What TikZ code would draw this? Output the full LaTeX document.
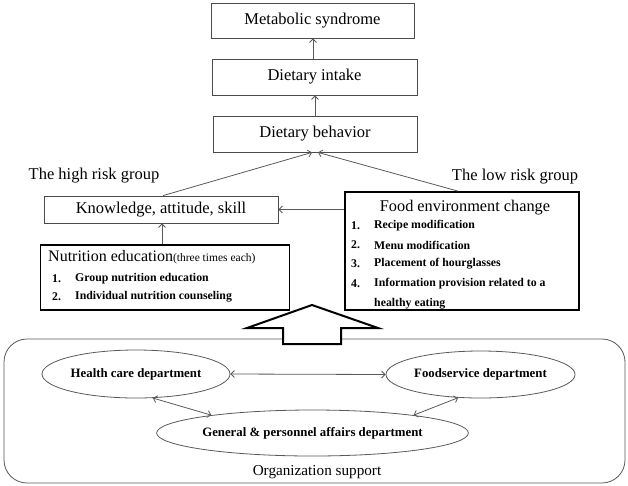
\documentclass[tikz,border=0pt]{standalone}
\usepackage{fontspec}
\setmainfont{Liberation Serif}
\usetikzlibrary{arrows.meta,shapes.geometric}
\newcommand\fsz[1]{\fontsize{#1}{#1}\selectfont}
\tikzset{
  thinbox/.style={draw=black!70, line width=0.8pt, inner sep=0pt, minimum width=204pt, minimum height=36pt, font=\fsz{16.5}},
  thickbox/.style={draw=black, line width=1.8pt, inner sep=0pt},
  arr/.style={draw=black!65, line width=0.8pt, -{Straight Barb[length=3.5pt,width=7pt]}},
  darr/.style={draw=black!65, line width=0.8pt, {Straight Barb[length=3.5pt,width=7pt]}-{Straight Barb[length=3.5pt,width=7pt]}},
  dept/.style={ellipse, draw=black!65, line width=0.8pt, inner sep=0pt, font=\fsz{12.8}\bfseries},
  itemtxt/.style={anchor=west, inner sep=0pt, font=\fsz{11.8}\bfseries},
  plain/.style={inner sep=0pt},
}
\begin{document}
\begin{tikzpicture}[x=1pt,y=-1pt]
\useasboundingbox (0,0) rectangle (628,485);
% top chain
\node[thinbox, minimum width=203pt, minimum height=35pt] (met) at (312.5,20.5) {Metabolic syndrome};
\node[thinbox, minimum width=205pt] (intake) at (314.5,77) {Dietary intake};
\node[thinbox] (behav) at (315,134) {Dietary behavior};
\draw[arr] ([xshift=-1.5pt]intake.north) -- ([xshift=-1.5pt]intake.north |- met.south);
\draw[arr] (behav.north) -- (behav.north |- intake.south);
% group labels
\node[plain, font=\fsz{16.5}] (high) at (94,176) {The high risk group};
\node[plain, font=\fsz{16.5}] (low) at (515,177) {The low risk group};
% knowledge
\node[thinbox, minimum width=234pt, minimum height=27pt] (know) at (161,209.5) {Knowledge, attitude, skill};
% nutrition education box
\node[thickbox, minimum width=249pt, minimum height=65pt] (nutr) at (165,277.5) {};
\node[plain, anchor=west] (ntitle) at (48,257) {\fsz{16}Nutrition education\fsz{11.5}(three times each)};
\node[itemtxt] (n1n) at (52,279) {1.};
\node[itemtxt] (n1) at (75,279) {Group nutrition education};
\node[itemtxt] (n2n) at (52,297) {2.};
\node[itemtxt] (n2) at (75,297) {Individual nutrition counseling};
% food environment box
\node[thickbox, minimum width=234pt, minimum height=118pt] (food) at (462,251) {};
\node[plain, font=\fsz{16.3}] (ftitle) at (465,207.5) {Food environment change};
\node[itemtxt] (f1n) at (351,226) {1.};
\node[itemtxt] (f1) at (374,226) {Recipe modification};
\node[itemtxt] (f2n) at (351,245) {2.};
\node[itemtxt] (f2) at (374,245) {Menu modification};
\node[itemtxt] (f3n) at (351,264) {3.};
\node[itemtxt] (f3) at (374,264) {Placement of hourglasses};
\node[itemtxt] (f4n) at (351,284) {4.};
\node[itemtxt] (f4) at (374,284) {Information provision related to a};
\node[itemtxt] (f5) at (374,303.5) {healthy eating};
% connectors
\draw[arr] ([xshift=2pt]know.north) -- ([xshift=-3pt]behav.south);
\draw[arr] ([xshift=-4pt]food.north) -- ([xshift=3pt]behav.south);
\draw[arr] (food.west |- know.east) -- (know.east);
\draw[arr] ([xshift=-3pt]nutr.north) -- ([xshift=-3pt]nutr.north |- know.south);
% organization support
\draw[draw=black!65, line width=0.8pt, rounded corners=23pt] (4,339) rectangle (625,483);
\draw[line width=2pt, fill=white, line join=miter] (312,305) -- (378,328) -- (341,328) -- (341,344) -- (283,344) -- (283,328) -- (247,328) -- cycle;
\node[dept, minimum width=188pt, minimum height=48pt] (hc) at (136,374) {Health care department};
\node[dept, minimum width=189pt, minimum height=47pt] (fs) at (480.5,374.5) {Foodservice department};
\node[dept, minimum width=247pt, minimum height=46pt] (gen) at (312.5,433) {General \& personnel affairs department};
\node[plain, font=\fsz{15.2}] (org) at (317,472) {Organization support};
\draw[darr] (hc.east) -- (fs.west);
\draw[darr] (hc.305) -- (gen.170);
\draw[darr] (fs.226) -- (gen.10);
\end{tikzpicture}
\end{document}
